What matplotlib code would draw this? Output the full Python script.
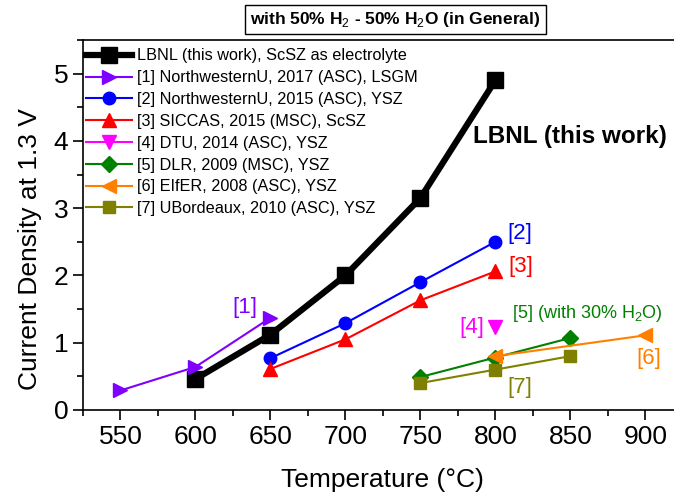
import matplotlib
matplotlib.use('Agg')
import matplotlib.pyplot as plt
from matplotlib.ticker import MultipleLocator

plt.rcParams['font.family'] = ['Liberation Sans', 'DejaVu Sans']
plt.rcParams['mathtext.fontset'] = 'custom'
plt.rcParams['mathtext.rm'] = 'Liberation Sans'
plt.rcParams['mathtext.bf'] = 'Liberation Sans:bold'

# data
lbnl_t = [600, 650, 700, 750, 800]
lbnl_j = [0.46, 1.12, 2.0, 3.15, 4.9]
r1_t = [550, 600, 650]
r1_j = [0.29, 0.64, 1.37]
r2_t = [650, 700, 750, 800]
r2_j = [0.77, 1.29, 1.9, 2.5]
r3_t = [650, 700, 750, 800]
r3_j = [0.61, 1.05, 1.63, 2.06]
r4_t = [800]
r4_j = [1.23]
r5_t = [750, 800, 850]
r5_j = [0.49, 0.78, 1.07]
r6_t = [800, 900]
r6_j = [0.8, 1.11]
r7_t = [750, 800, 850]
r7_j = [0.4, 0.6, 0.8]

fig = plt.figure(figsize=(6.74, 4.93), dpi=100)
ax = fig.add_axes([0.1231, 0.1684, 0.890, 0.7505])

ax.plot(lbnl_t, lbnl_j, color='black', marker='s', ms=11, lw=4.5, label='LBNL (this work), ScSZ as electrolyte')
ax.plot(r1_t, r1_j, color='#8000FF', marker='>', ms=10, lw=1.5, label='[1] NorthwesternU, 2017 (ASC), LSGM')
ax.plot(r2_t, r2_j, color='#0000FF', marker='o', ms=9, lw=1.5, label='[2] NorthwesternU, 2015 (ASC), YSZ')
ax.plot(r3_t, r3_j, color='#FF0000', marker='^', ms=10, lw=1.5, label='[3] SICCAS, 2015 (MSC), ScSZ')
ax.plot(r4_t, r4_j, color='#FF00FF', marker='v', ms=10, lw=1.5, label='[4] DTU, 2014 (ASC), YSZ')
ax.plot(r5_t, r5_j, color='#008000', marker='D', ms=8, lw=1.5, label='[5] DLR, 2009 (MSC), YSZ')
ax.plot(r6_t, r6_j, color='#FF8000', marker='<', ms=10, lw=1.5, label='[6] EIfER, 2008 (ASC), YSZ')
ax.plot(r7_t, r7_j, color='#808000', marker='s', ms=8, lw=1.5, label='[7] UBordeaux, 2010 (ASC), YSZ')

ax.set_xlim(525, 925)
ax.set_ylim(0, 5.5)
ax.xaxis.set_major_locator(MultipleLocator(50))
ax.xaxis.set_minor_locator(MultipleLocator(25))
ax.yaxis.set_major_locator(MultipleLocator(1))
ax.yaxis.set_minor_locator(MultipleLocator(0.5))
ax.tick_params(which='major', direction='out', length=7, width=1.2, labelsize=19)
ax.tick_params(which='minor', direction='out', length=4, width=1.2)
for s in ax.spines.values():
    s.set_linewidth(1.2)

ax.set_xlabel('Temperature (\u00b0C)', fontsize=19, labelpad=14)
ax.set_ylabel('Current Density at 1.3 V', fontsize=19)
ax.yaxis.set_label_coords(-0.068, 0.435)

ax.legend(loc='upper left', bbox_to_anchor=(0.0, 0.986), frameon=False, fontsize=11.7,
          handlelength=2.8, labelspacing=0.42, borderaxespad=0.0, borderpad=0.2,
          handletextpad=0.3)

ax.text(785, 4.06, 'LBNL (this work)', fontsize=17.5, fontweight='bold', va='center')
ax.text(633, 1.53, '[1]', color='#8000FF', fontsize=16, ha='center', va='center')
ax.text(816, 2.63, '[2]', color='#0000FF', fontsize=16, ha='center', va='center')
ax.text(817, 2.14, '[3]', color='#FF0000', fontsize=16, ha='center', va='center')
ax.text(784, 1.22, '[4]', color='#FF00FF', fontsize=16, ha='center', va='center')
ax.text(811, 1.44, '[5] (with 30% H$_2$O)', color='#008000', fontsize=13, va='center')
ax.text(902, 0.77, '[6]', color='#FF8000', fontsize=16, ha='center', va='center')
ax.text(816, 0.33, '[7]', color='#808000', fontsize=16, ha='center', va='center')

fig.text(0.587, 0.961, r'with 50% H$_2$ - 50% H$_2$O (in General)', fontsize=12.5, fontweight='bold',
         ha='center', va='center',
         bbox=dict(facecolor='white', edgecolor='black', lw=1, boxstyle='square,pad=0.3'))

fig.savefig('out.png', dpi=100)
